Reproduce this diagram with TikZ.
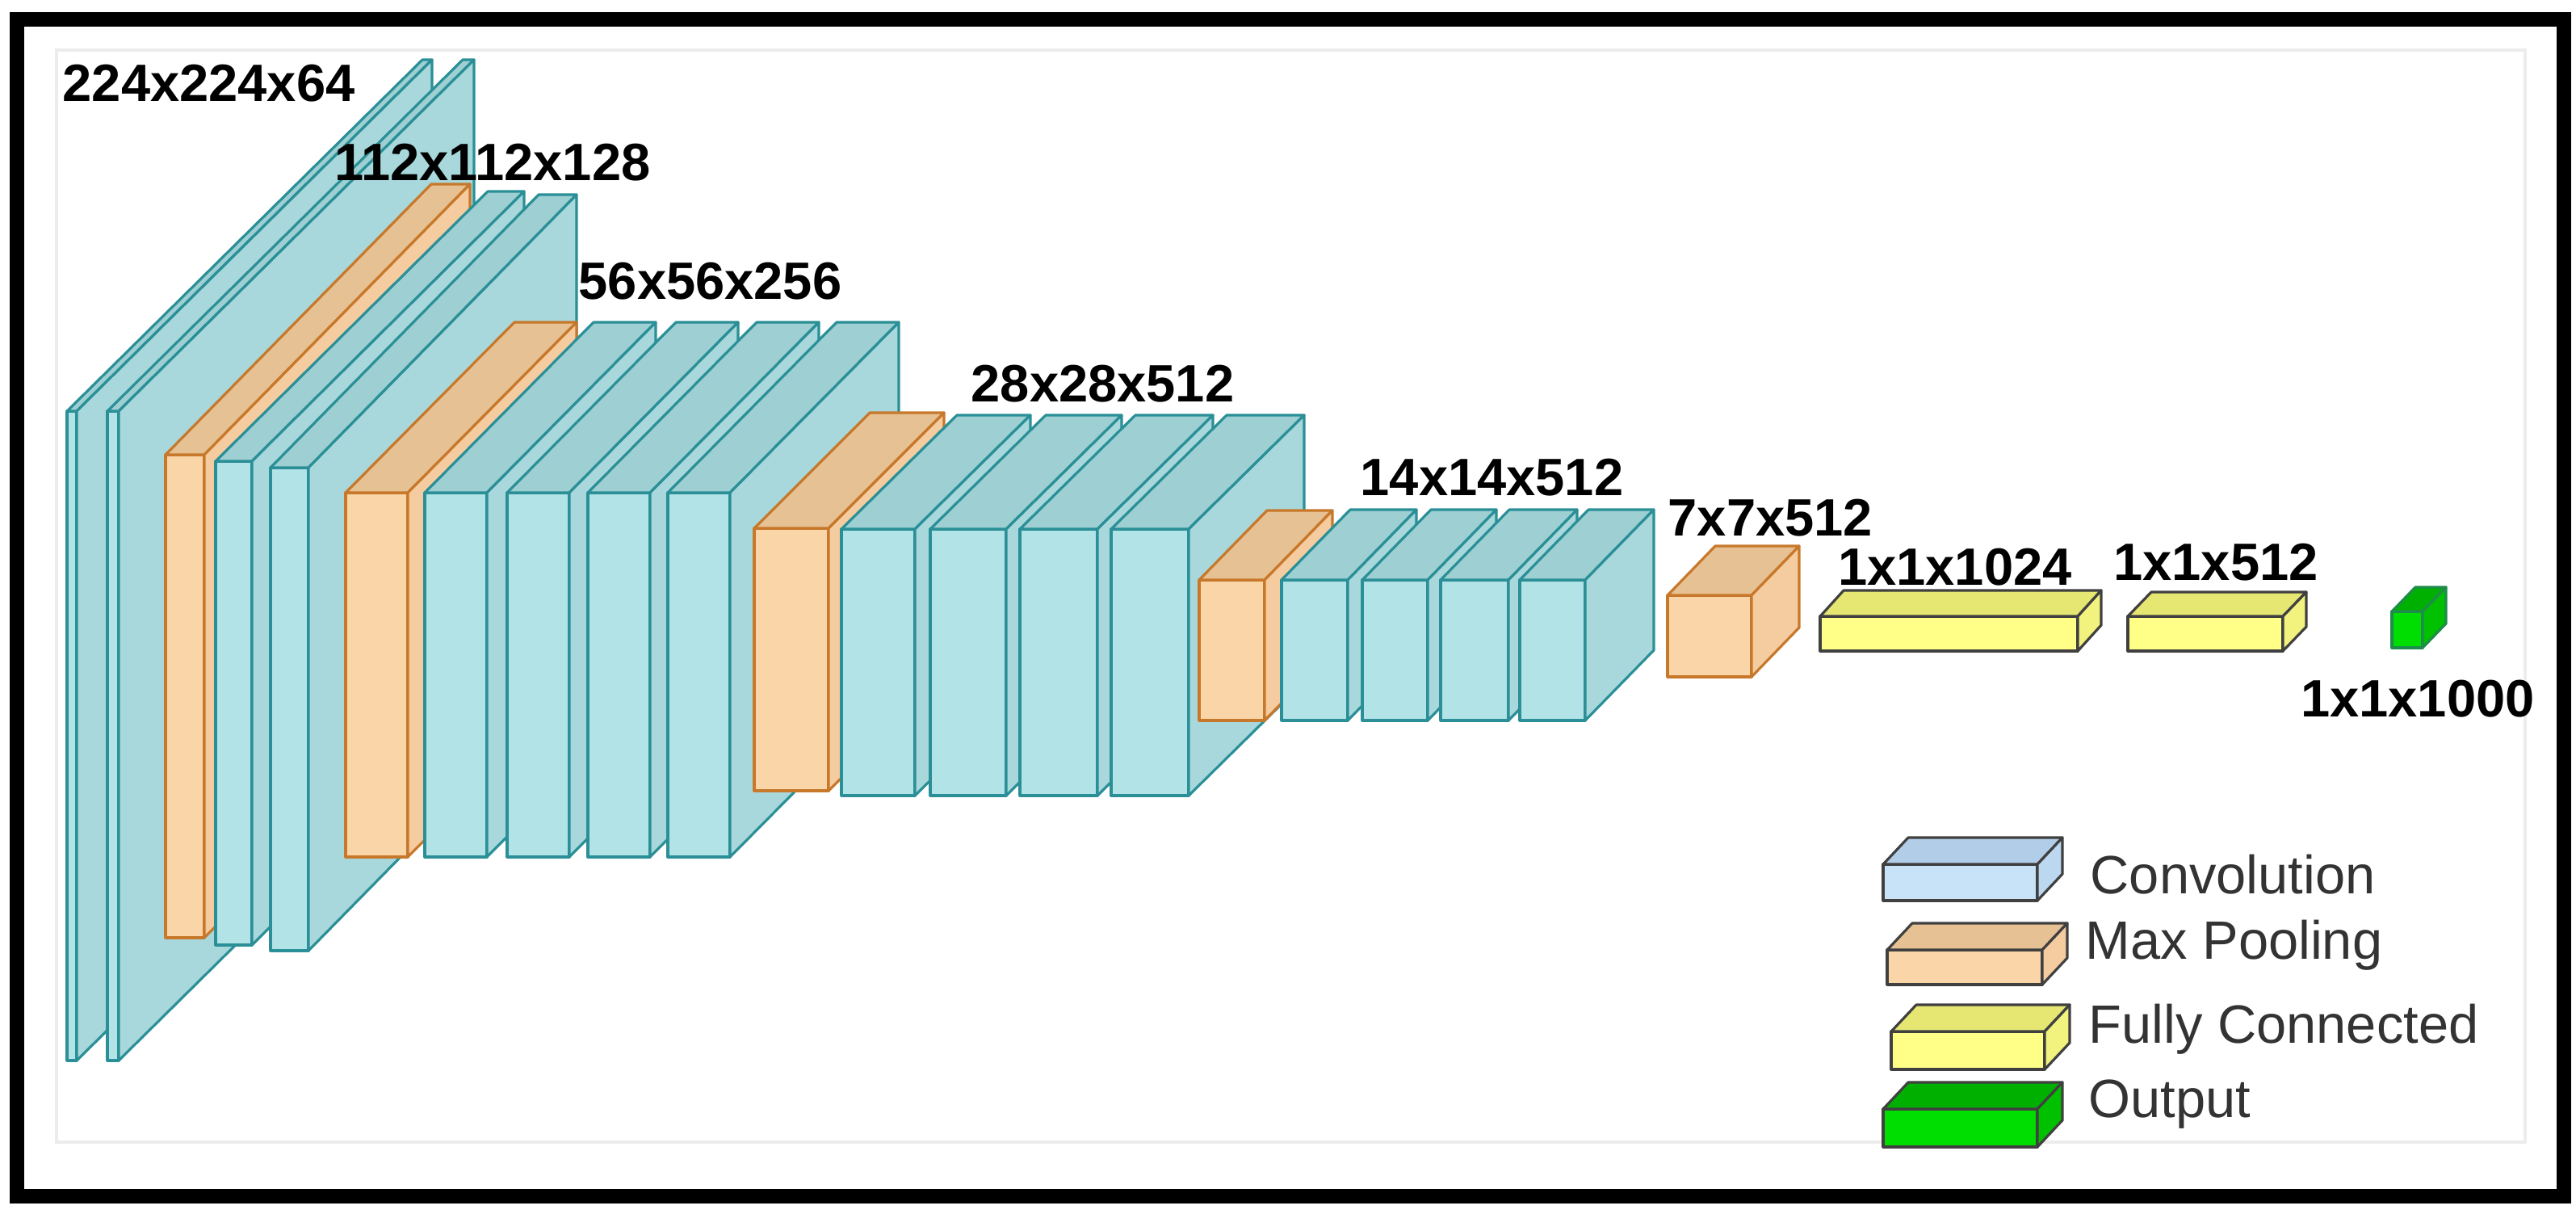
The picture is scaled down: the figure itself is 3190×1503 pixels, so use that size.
\documentclass[tikz,border=0pt]{standalone}
\usepackage{fontspec}
\setmainfont{Liberation Sans}
\usetikzlibrary{positioning}

\definecolor{convfront}{HTML}{B2E3E6}
\definecolor{convtop}{HTML}{9ECFD2}
\definecolor{convside}{HTML}{A8D8DB}
\definecolor{convline}{HTML}{2A8F97}
\definecolor{poolfront}{HTML}{F9D5A8}
\definecolor{pooltop}{HTML}{E6C193}
\definecolor{poolside}{HTML}{F4CCA0}
\definecolor{poolline}{HTML}{C8782A}
\definecolor{fcfront}{HTML}{FFFF88}
\definecolor{fctop}{HTML}{E6E673}
\definecolor{fcside}{HTML}{F2F27E}
\definecolor{fcline}{HTML}{404040}
\definecolor{outfront}{HTML}{00DD00}
\definecolor{outtop}{HTML}{00B000}
\definecolor{outside}{HTML}{00C000}
\definecolor{outline}{HTML}{1E8C4A}
\definecolor{lconvfront}{HTML}{C8E2F8}
\definecolor{lconvtop}{HTML}{B2CDE8}
\definecolor{lconvside}{HTML}{BCD8F0}
\definecolor{legline}{HTML}{404040}

% #1,#2 front left/right, #3,#4 front top/bottom, #5,#6 depth, #7 kind, #8 line colour
\newcommand{\cube}[8]{%
  \filldraw[box, draw=#8, fill=#7front] (#1,#3) rectangle (#2,#4);
  \filldraw[box, draw=#8, fill=#7top] (#1,#3) -- ({#1+#5},{#3-#6}) -- ({#2+#5},{#3-#6}) -- (#2,#3) -- cycle;
  \filldraw[box, draw=#8, fill=#7side] (#2,#3) -- ({#2+#5},{#3-#6}) -- ({#2+#5},{#4-#6}) -- (#2,#4) -- cycle;
}

\begin{document}
\begin{tikzpicture}[
        x=0.01cm, y=-0.01cm,
        box/.style={line width=0.9pt, line join=round},
        dimlabel/.style={font=\fontsize{18.5}{20}\selectfont\bfseries, text=black, inner sep=0pt},
        legtext/.style={font=\fontsize{19}{21}\selectfont, text=black!80, anchor=west, inner sep=0pt}
    ]
    \useasboundingbox (0,0) rectangle (3190,1503);

    % --- frames ---
    \draw[gray!15, line width=1pt] (70,62) rectangle (3127,1414);
    \draw[black, line width=5pt] (21,24) rectangle (3175,1481);

    % --- block 1 ---
    \cube{83}{95}{509}{1313}{440}{435}{conv}{convline}
    \cube{133}{147}{509}{1313}{440}{435}{conv}{convline}
    \cube{205}{253}{563}{1161}{329}{335}{pool}{poolline}

    % --- block 2 ---
    \cube{267}{312}{571}{1170}{337}{334}{conv}{convline}
    \cube{335}{382}{579}{1177}{332}{338}{conv}{convline}
    \cube{428}{505}{610}{1061}{209}{211}{pool}{poolline}

    % --- block 3 ---
    \foreach \xa/\xb in {526/603, 628/705, 728/805, 827/904}
        {\cube{\xa}{\xb}{610}{1061}{209}{211}{conv}{convline}}
    \cube{934}{1026}{654}{979}{143}{143}{pool}{poolline}

    % --- block 4 ---
    \foreach \xa/\xb in {1042/1133, 1152/1246, 1263/1359, 1376/1472}
        {\cube{\xa}{\xb}{655}{985}{143}{141}{conv}{convline}}
    \cube{1485}{1566}{718}{892}{84}{86}{pool}{poolline}

    % --- block 5 ---
    \foreach \xa/\xb in {1587/1669, 1687/1768, 1784/1868, 1882/1963}
        {\cube{\xa}{\xb}{718}{892}{85}{87}{conv}{convline}}
    \cube{2065}{2169}{737}{838}{59}{61}{pool}{poolline}

    % --- fully connected and output ---
    \cube{2254}{2573}{763}{806}{29}{32}{fc}{fcline}
    \cube{2635}{2827}{763}{806}{29}{30}{fc}{fcline}
    \cube{2962}{3000}{757}{802}{29}{30}{out}{outline}

    % --- dimension labels ---
    \node[dimlabel, anchor=west] (l1) at (77,103) {224x224x64};
    \node[dimlabel, anchor=west] (l2) at (414,201) {112x112x128};
    \node[dimlabel, anchor=west] (l3) at (716,348) {56x56x256};
    \node[dimlabel, anchor=west] (l4) at (1202,475) {28x28x512};
    \node[dimlabel, anchor=west] (l5) at (1684,591) {14x14x512};
    \node[dimlabel, anchor=west] (l6) at (2065,641) {7x7x512};
    \node[dimlabel] (l7) at (2421,702) {1x1x1024};
    \node[dimlabel] (l8) at (2744,696) {1x1x512};
    \node[dimlabel] (l9) at (2994,865) {1x1x1000};

    % --- legend ---
    \cube{2332}{2523}{1070}{1115}{31}{33}{lconv}{legline}
    \cube{2337}{2529}{1176}{1219}{31}{33}{pool}{legline}
    \cube{2342}{2532}{1277}{1324}{31}{33}{fc}{legline}
    \cube{2332}{2523}{1373}{1420}{31}{33}{out}{legline}
    \node[legtext] (tconv) at (2588,1083) {Convolution};
    \node[legtext] (tpool) at (2582,1170) {Max Pooling};
    \node[legtext] (tfc) at (2586,1274) {Fully Connected};
    \node[legtext] (tout) at (2586,1367) {Output};

\end{tikzpicture}
\end{document}
